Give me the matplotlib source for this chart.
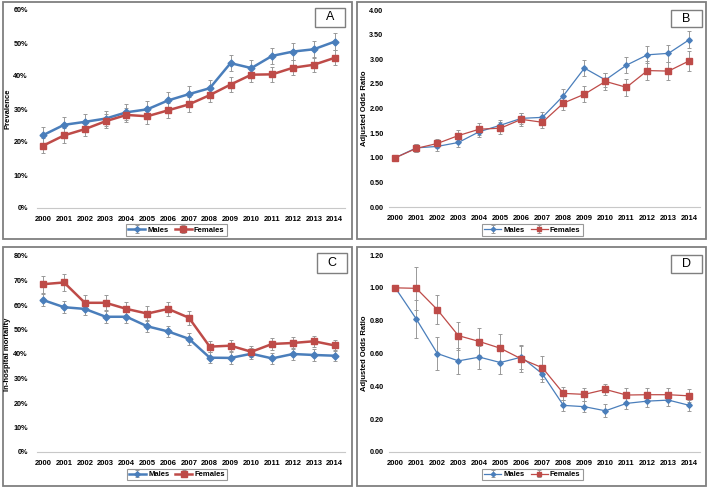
import matplotlib.pyplot as plt
from matplotlib.patches import Rectangle
import numpy as np

plt.rcParams['font.family'] = ['Liberation Sans', 'DejaVu Sans']

years = [str(y) for y in range(2000, 2015)]

# A: prevalence (%)
a_males = [22.1, 25.2, 26.1, 27.1, 29.0, 29.9, 32.6, 34.5, 36.3, 43.9, 42.4, 46.1, 47.4, 48.1, 50.4]
a_males_err = [2.4, 2.4, 2.4, 2.4, 2.4, 2.4, 2.5, 2.5, 2.5, 2.5, 2.4, 2.5, 2.5, 2.6, 2.6]
a_females = [18.9, 22.0, 23.9, 26.3, 28.2, 27.8, 29.6, 31.4, 34.2, 37.4, 40.4, 40.5, 42.5, 43.4, 45.5]
a_females_err = [2.2, 2.2, 2.2, 2.2, 2.2, 2.2, 2.2, 2.2, 2.2, 2.3, 2.2, 2.2, 2.3, 2.3, 2.3]

# B: adjusted odds ratio, prevalence
b_males = [1.00, 1.20, 1.23, 1.31, 1.53, 1.66, 1.80, 1.82, 2.26, 2.82, 2.58, 2.88, 3.09, 3.12, 3.40]
b_males_err = [0, 0.08, 0.09, 0.09, 0.10, 0.11, 0.11, 0.11, 0.13, 0.16, 0.15, 0.16, 0.17, 0.17, 0.18]
b_females = [1.00, 1.19, 1.29, 1.45, 1.58, 1.60, 1.78, 1.72, 2.11, 2.29, 2.55, 2.43, 2.77, 2.76, 2.97]
b_females_err = [0, 0.08, 0.10, 0.11, 0.12, 0.12, 0.13, 0.12, 0.15, 0.16, 0.17, 0.17, 0.19, 0.19, 0.20]

# C: in-hospital mortality (%)
c_males = [62.0, 59.1, 58.4, 55.2, 55.2, 51.3, 49.2, 46.2, 38.5, 38.4, 40.1, 38.2, 40.0, 39.6, 39.3]
c_males_err = [2.5, 2.4, 2.4, 2.4, 2.4, 2.4, 2.4, 2.4, 2.3, 2.3, 2.3, 2.3, 2.3, 2.3, 2.3]
c_females = [68.5, 69.2, 60.9, 60.9, 58.4, 56.5, 58.4, 54.8, 43.0, 43.4, 40.9, 44.1, 44.5, 45.2, 43.5]
c_females_err = [3.5, 3.5, 3.0, 3.0, 3.0, 3.0, 3.0, 2.8, 2.3, 2.3, 2.2, 2.3, 2.3, 2.3, 2.3]

# D: adjusted odds ratio, mortality
d_males = [1.00, 0.81, 0.60, 0.555, 0.578, 0.545, 0.578, 0.476, 0.284, 0.276, 0.251, 0.296, 0.31, 0.316, 0.284]
d_males_err = [0, 0.115, 0.10, 0.08, 0.07, 0.07, 0.075, 0.05, 0.035, 0.035, 0.04, 0.035, 0.035, 0.035, 0.035]
d_females = [1.00, 0.997, 0.867, 0.709, 0.673, 0.632, 0.567, 0.513, 0.357, 0.351, 0.381, 0.347, 0.349, 0.349, 0.342]
d_females_err = [0, 0.13, 0.09, 0.085, 0.085, 0.085, 0.08, 0.07, 0.04, 0.04, 0.035, 0.04, 0.04, 0.04, 0.04]

W, H = 709, 488
fig = plt.figure(figsize=(W / 100, H / 100), dpi=100)

BLUE = '#4a7ebb'
RED = '#be4b48'


def px(x0, y0, x1, y1):
    # pixel box (top-left origin) -> figure fraction
    return [x0 / W, 1 - y1 / H, (x1 - x0) / W, (y1 - y0) / H]


def panel(box, axbox, letterbox, legbox, labelx, ypad, letter, males, merr, females, ferr,
          ylim, yticks, yfmt, ylabel, thick):
    # outer frame of panel
    fig.patches.append(Rectangle((box[0] / W, 1 - box[3] / H), (box[2] - box[0]) / W,
                                 (box[3] - box[1]) / H, transform=fig.transFigure,
                                 fill=False, edgecolor='#7f7f7f', linewidth=1.3))
    ax = fig.add_axes(px(*axbox))
    x = np.arange(len(years))
    lw = 1.8 if thick else 0.9
    ms_m = 3.5 if thick else 2.8
    ms_f = 5.0 if thick else 3.8
    ax.errorbar(x, males, yerr=merr, color=BLUE, lw=lw, marker='D', ms=ms_m,
                ecolor='#999999', elinewidth=0.7, capsize=1.5, capthick=0.7,
                label='Males', zorder=3)
    ax.errorbar(x, females, yerr=ferr, color=RED, lw=lw, marker='s', ms=ms_f,
                ecolor='#999999', elinewidth=0.7, capsize=1.5, capthick=0.7,
                label='Females', zorder=3)
    ax.set_xlim(-0.3, 14.5)
    ax.set_ylim(*ylim)
    ax.set_xticks(x)
    ax.set_xticklabels(years, fontsize=5.5, fontweight='bold')
    ax.set_yticks(yticks)
    ax.set_yticklabels([yfmt(v) for v in yticks], fontsize=5.2, fontweight='bold')
    ax.tick_params(axis='x', length=0, pad=6)
    ax.tick_params(axis='y', length=0, pad=ypad)
    for s in ['top', 'right', 'left']:
        ax.spines[s].set_visible(False)
    ax.spines['bottom'].set_color('#c8c8c8')
    ax.patch.set_alpha(0)
    # y label
    fig.text(labelx / W, 1 - (axbox[1] + axbox[3]) / 2 / H, ylabel, rotation=90,
             ha='center', va='center', fontsize=5.5, fontweight='bold')
    # letter box
    lb = letterbox
    fig.patches.append(Rectangle((lb[0] / W, 1 - lb[3] / H), (lb[2] - lb[0]) / W,
                                 (lb[3] - lb[1]) / H, transform=fig.transFigure,
                                 facecolor='white', edgecolor='#7f7f7f', linewidth=1.0,
                                 zorder=5))
    fig.text((lb[0] + lb[2]) / 2 / W, 1 - (lb[1] + lb[3]) / 2 / H, letter,
             ha='center', va='center', fontsize=9, zorder=6)
    # legend
    g = legbox
    leg = ax.legend(loc='center', bbox_to_anchor=((g[0] + g[2]) / 2 / W, 1 - (g[1] + g[3]) / 2 / H),
                    bbox_transform=fig.transFigure, ncol=2,
                    prop={'weight': 'bold', 'size': 5.5}, frameon=True, fancybox=False,
                    edgecolor='#7f7f7f', handlelength=2.2, handletextpad=0.3,
                    columnspacing=0.8, borderpad=0.3, markerscale=0.8)
    leg.get_frame().set_linewidth(0.8)
    return ax


pct = lambda v: '%d%%' % round(v)
dec = lambda v: '%.2f' % v

panel((3, 2, 352, 239), (37, 10, 345, 208), (315, 8, 345, 27), (138, 224, 215, 236), 8, 6.5, 'A',
      a_males, a_males_err, a_females, a_females_err,
      (0, 60), np.arange(0, 61, 10), pct, 'Prevalence', True)
panel((357, 2, 706, 239), (389, 10, 700, 207), (671, 10, 702, 27), (494, 224, 571, 236), 364, 4, 'B',
      b_males, b_males_err, b_females, b_females_err,
      (0, 4), np.arange(0, 4.01, 0.5), dec, 'Adjusted Odds Ratio', False)
panel((3, 247, 352, 486), (37, 256, 345, 452), (317, 253, 347, 273), (139, 469, 215, 480), 8, 6.5, 'C',
      c_males, c_males_err, c_females, c_females_err,
      (0, 80), np.arange(0, 81, 10), pct, 'In-hospital mortality', True)
panel((357, 247, 706, 486), (389, 255, 700, 452), (671, 255, 702, 273), (494, 469, 571, 480), 364, 4, 'D',
      d_males, d_males_err, d_females, d_females_err,
      (0, 1.2), np.arange(0, 1.21, 0.2), dec, 'Adjusted Odds Ratio', False)

plt.savefig('out.png', dpi=100)
